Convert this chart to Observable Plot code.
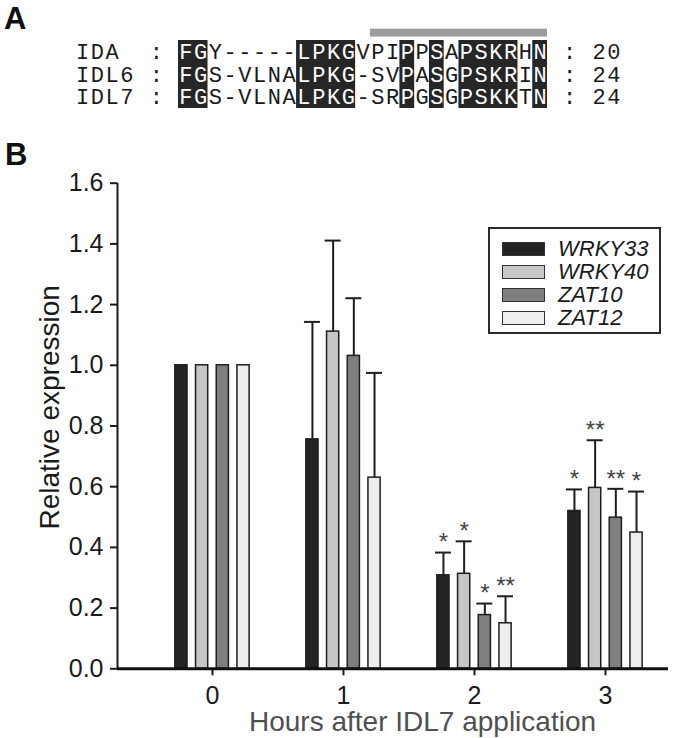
<!DOCTYPE html>
<html>
<head>
<meta charset="utf-8">
<script src="https://cdn.jsdelivr.net/npm/d3@7"></script>
<script src="https://cdn.jsdelivr.net/npm/@observablehq/plot@0.6"></script>
<style>
  body { margin: 0; background: #fff; }
  #wrap { position: relative; width: 700px; height: 738px; overflow: hidden; background: #fff;
          font-family: "Liberation Sans", Arial, sans-serif; }
  .panel { position: absolute; font-weight: bold; font-size: 31px; line-height: 1; color: #111; }
  #labA { left: 4px; top: 3px; }
  #labB { left: 5px; top: 139px; }
  #pa { position: absolute; left: 0; top: 0; }
  #pb { position: absolute; left: 0; top: 130px; }
  #pb svg [aria-label*="axis"] line, #pb svg [aria-label*="axis"] path { stroke-width: 2px; stroke: #1a1a1a; }
  #legend { position: absolute; left: 488px; top: 227px; width: 169px; height: 103px;
            border: 2px solid #2a2a2a; background: #fff; }
  .lrow { position: absolute; left: 0; height: 23px; display: flex; align-items: center; }
  .sw { width: 41px; height: 12px; border: 1.5px solid #333; margin-left: 12px; }
  .lt { margin-left: 13px; font-style: italic; font-size: 22px; color: #1a1a1a; }
</style>
</head>
<body>
<div id="wrap">
  <div id="pa"></div>
  <div id="pb"></div>
  <div id="legend"></div>
  <div class="panel" id="labA">A</div>
  <div class="panel" id="labB">B</div>
</div>
<script>
// ---------- Panel A: alignment ----------
const alnNames = ["IDA", "IDL6", "IDL7"];
const alnSeqs = [
  "FGY-----LPKGVPIPPSAPSKRHN",
  "FGS-VLNALPKG-SVPASGPSKRIN",
  "FGS-VLNALPKG-SRPGSGPSKKTN"
];
const alnLengths = [20, 24, 24];
const conservedCols = [0, 1, 8, 9, 10, 11, 15, 17, 19, 20, 21, 22, 24];
const motifCols = [13, 24]; // first and last column under the grey bar

// ---------- Panel B: relative expression ----------
const hours = [0, 1, 2, 3];
const genes = ["WRKY33", "WRKY40", "ZAT10", "ZAT12"];
const geneColors = ["#232323", "#c5c6c8", "#7e7f81", "#eeeeee"];
const meanWRKY33 = [1.00, 0.756, 0.308, 0.520];
const meanWRKY40 = [1.00, 1.111, 0.313, 0.596];
const meanZAT10  = [1.00, 1.031, 0.177, 0.498];
const meanZAT12  = [1.00, 0.630, 0.150, 0.449];
const errWRKY33 = [0, 0.387, 0.075, 0.071];
const errWRKY40 = [0, 0.300, 0.107, 0.157];
const errZAT10  = [0, 0.190, 0.038, 0.095];
const errZAT12  = [0, 0.345, 0.089, 0.135];
const sigWRKY33 = ["", "", "*", "*"];
const sigWRKY40 = ["", "", "*", "**"];
const sigZAT10  = ["", "", "*", "**"];
const sigZAT12  = ["", "", "**", "*"];
const yTicks = [0, 0.2, 0.4, 0.6, 0.8, 1.0, 1.2, 1.4, 1.6];
const xTicks = [0, 1, 2, 3];
const yTitle = "Relative expression";
const xTitle = "Hours after IDL7 application";

const mono = "Liberation Mono, DejaVu Sans Mono, monospace";
const sans = "Liberation Sans, Arial, sans-serif";

// Build alignment characters
const chars = [];
alnNames.forEach((name, r) => {
  const line = name.padEnd(4) + " : " + alnSeqs[r] + " : " + alnLengths[r];
  [...line].forEach((ch, k) => {
    const c = k - 7;
    if (ch !== " ") chars.push({r, c, ch, cons: c >= 0 && c < alnSeqs[r].length && conservedCols.includes(c)});
  });
});
const runs = [];
conservedCols.forEach(c => {
  const last = runs[runs.length - 1];
  if (last && last[1] === c) last[1] = c + 1; else runs.push([c, c + 1]);
});

const plotA = Plot.plot({
  width: 700, height: 130, margin: 0,
  style: {background: "transparent"},
  x: {type: "linear", domain: [0, 25], range: [178, 547], axis: null},
  y: {type: "linear", domain: [0, 3], range: [40, 108], axis: null},
  marks: [
    Plot.rect([motifCols], {x1: d => d[0], x2: d => d[1] + 1, y1: -0.5, y2: -0.15, fill: "#9c9c9c"}),
    Plot.rect(runs, {x1: d => d[0], x2: d => d[1], y1: 0, y2: 3, fill: "#262626"}),
    Plot.text(chars.filter(d => !d.cons), {x: d => d.c + 0.5, y: d => d.r + 0.5, text: "ch",
      fill: "#1a1a1a", fontFamily: mono, fontSize: 22}),
    Plot.text(chars.filter(d => d.cons), {x: d => d.c + 0.5, y: d => d.r + 0.5, text: "ch",
      fill: "#ffffff", fontFamily: mono, fontSize: 22})
  ]
});
document.getElementById("pa").appendChild(plotA);

// Panel B rows
const means = [meanWRKY33, meanWRKY40, meanZAT10, meanZAT12];
const errs = [errWRKY33, errWRKY40, errZAT10, errZAT12];
const sigs = [sigWRKY33, sigWRKY40, sigZAT10, sigZAT12];
const rows = [];
genes.forEach((g, si) => hours.forEach((h, hi) => rows.push({
  gene: g, si, hour: h, mean: means[si][hi], err: errs[si][hi], sig: sigs[si][hi]
})));
const pitch = 0.158, half = 0.0465, capHalf = 0.061;
const cx = d => d.hour + (d.si - 1.5) * pitch;
const xDomain = [-0.725, 3.481];
const errRows = rows.filter(d => d.err > 0);

const plotB = Plot.plot({
  width: 700, height: 608,
  marginTop: 52.7, marginBottom: 69.7, marginLeft: 117, marginRight: 32,
  style: {fontFamily: sans, fontSize: "25px", color: "#1a1a1a", background: "transparent", overflow: "visible"},
  x: {type: "linear", domain: xDomain, ticks: xTicks, tickFormat: d => String(d), tickSize: 7, tickPadding: 10, label: null},
  y: {type: "linear", domain: [0, 1.6], ticks: yTicks, tickFormat: d => d.toFixed(1), tickSize: 7, tickPadding: 7, label: null},
  color: {domain: genes, range: geneColors},
  marks: [
    Plot.rect(rows, {x1: d => cx(d) - half, x2: d => cx(d) + half, y1: 0, y2: "mean",
      fill: "gene", stroke: "#1e1e1e", strokeWidth: 1.5}),
    Plot.ruleX(errRows, {x: cx, y1: "mean", y2: d => d.mean + d.err, stroke: "#1e1e1e", strokeWidth: 2}),
    Plot.ruleY(errRows, {y: d => d.mean + d.err, x1: d => cx(d) - capHalf, x2: d => cx(d) + capHalf,
      stroke: "#1e1e1e", strokeWidth: 2}),
    Plot.text(rows.filter(d => d.sig), {x: cx, y: d => d.mean + d.err, text: "sig", dy: -10,
      fontSize: 24, fill: "#444", fontFamily: sans}),
    Plot.ruleX([xDomain[0]], {stroke: "#1a1a1a", strokeWidth: 2}),
    Plot.ruleY([0], {stroke: "#111", strokeWidth: 3}),
    Plot.text([yTitle], {frameAnchor: "left", rotate: -90, dx: -67, dy: 103.5,
      fontSize: 28, fill: "#1a1a1a", fontFamily: sans}),
    Plot.text([xTitle], {frameAnchor: "bottom", dx: 29.5, dy: 62,
      fontSize: 28, fill: "#505050", fontFamily: sans})
  ]
});
document.getElementById("pb").appendChild(plotB);

// Legend
const legend = document.getElementById("legend");
genes.forEach((g, i) => {
  const row = document.createElement("div");
  row.className = "lrow";
  row.style.top = (8.5 + i * 23) + "px";
  const sw = document.createElement("div");
  sw.className = "sw";
  sw.style.background = geneColors[i];
  const t = document.createElement("span");
  t.className = "lt";
  t.textContent = g;
  row.appendChild(sw); row.appendChild(t);
  legend.appendChild(row);
});
</script>
</body>
</html>
